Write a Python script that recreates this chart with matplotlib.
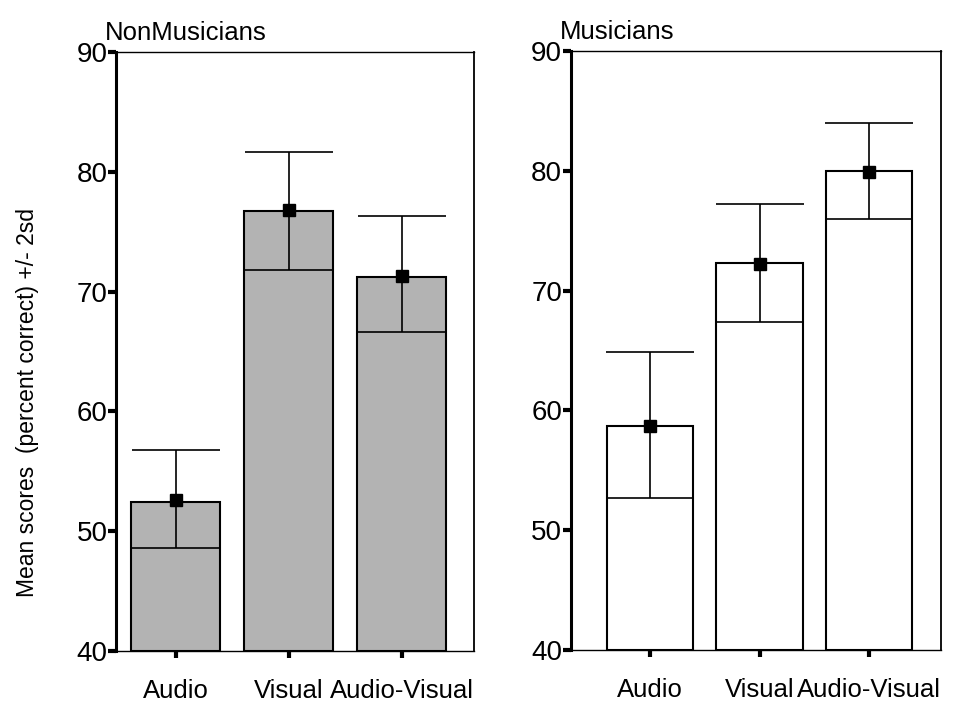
import numpy as np
import matplotlib.pyplot as plt

plt.rcParams['font.family'] = ['Liberation Sans', 'DejaVu Sans']

conditions = ['Audio', 'Visual', 'Audio-Visual']

# NonMusicians
non_bar = [52.4, 76.7, 71.2]
non_mean = [52.6, 76.8, 71.3]
non_lo = [48.6, 71.8, 66.6]
non_hi = [56.8, 81.7, 76.3]

# Musicians
mus_bar = [58.7, 72.3, 80.0]
mus_mean = [58.7, 72.2, 79.9]
mus_lo = [52.7, 67.4, 76.0]
mus_hi = [64.9, 77.2, 84.0]

yticks = [40, 50, 60, 70, 80, 90]

fig = plt.figure(figsize=(9.67, 7.06), dpi=100)
ax1 = fig.add_axes([0.120, 0.078, 0.370, 0.848])
ax2 = fig.add_axes([0.590, 0.079, 0.383, 0.849])


def panel(ax, bar, mean, lo, hi, color, title, xlim):
    x = np.arange(len(conditions))
    ax.bar(x, np.array(bar) - 40, bottom=40, width=0.79, color=color,
           edgecolor='black', linewidth=1.5, zorder=2)
    mean = np.array(mean)
    err = [mean - np.array(lo), np.array(hi) - mean]
    ax.errorbar(x, mean, yerr=err, fmt='s', color='black', ms=8,
                elinewidth=1.2, capsize=32, capthick=1.2, zorder=3)
    ax.set_ylim(40, 90)
    ax.set_xlim(*xlim)
    ax.set_yticks(yticks)
    ax.set_xticks(x)
    ax.set_xticklabels(conditions)
    ax.tick_params(axis='y', direction='out', length=6, width=3, labelsize=20, pad=0)
    ax.tick_params(axis='x', direction='out', length=5, width=3, labelsize=18.5, pad=15)
    ax.spines['left'].set_linewidth(2.2)
    ax.spines['right'].set_linewidth(1.3)
    ax.spines['top'].set_linewidth(1.0)
    ax.spines['bottom'].set_linewidth(1.0)
    ax.text(-0.03, 1.012, title, transform=ax.transAxes, fontsize=18.5,
            ha='left', va='bottom')


panel(ax1, non_bar, non_mean, non_lo, non_hi, '#b3b3b3', 'NonMusicians', (-0.53, 2.64))
panel(ax2, mus_bar, mus_mean, mus_lo, mus_hi, 'white', 'Musicians', (-0.73, 2.66))

ax1.set_ylabel('Mean scores  (percent correct) +/- 2sd', fontsize=16.5)
ax1.yaxis.set_label_coords(-0.215, 0.415)

fig.savefig('out.png', dpi=100)
